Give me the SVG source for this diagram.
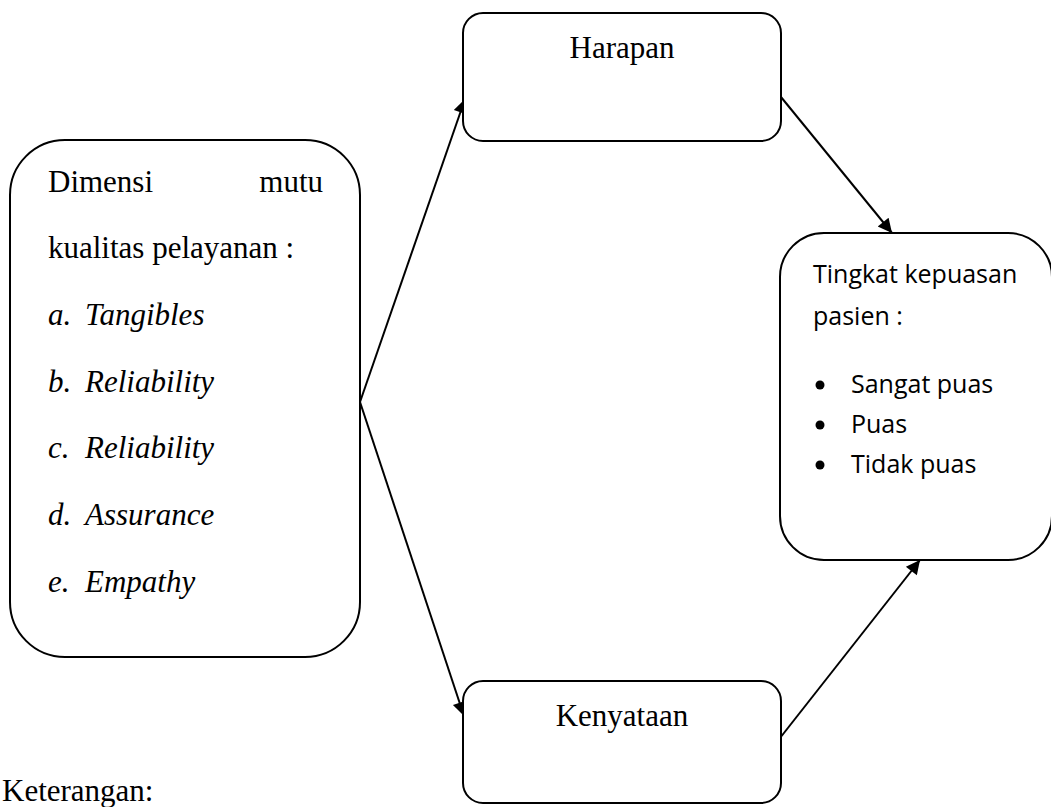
<svg xmlns="http://www.w3.org/2000/svg" width="1051" height="807" viewBox="0 0 1051 807">
<style>
.box{fill:#fff;stroke:#000;stroke-width:2}
.serif{font-family:"Liberation Serif","Times New Roman",serif;font-size:31px;fill:#000}
.it{font-style:italic}
.sans{font-family:"Open Sans","Noto Sans",sans-serif;font-size:25px;fill:#000}
.con{stroke:#000;stroke-width:2;fill:none;marker-end:url(#ah)}
</style>
<defs>
<marker id="ah" viewBox="0 0 10 10" refX="10" refY="5" markerWidth="9" markerHeight="7" markerUnits="strokeWidth" orient="auto">
<path d="M0,0 L10,5 L0,10 z" fill="#000"/>
</marker>
</defs>
<rect width="1051" height="807" fill="#fff"/>
<g id="connectors">
<line class="con" x1="360" y1="402" x2="465" y2="99"/>
<line class="con" x1="360" y1="402" x2="464" y2="716"/>
<line class="con" x1="781" y1="97" x2="892" y2="233"/>
<line class="con" x1="780" y1="738" x2="920" y2="560"/>
</g>
<g id="dimensi">
<rect class="box" x="10" y="140" width="350" height="517" rx="55" ry="55"/>
<text class="serif" x="48" y="192">Dimensi</text>
<text class="serif" x="323" y="192" text-anchor="end">mutu</text>
<text class="serif" x="48" y="258">kualitas pelayanan :</text>
<text class="serif it" x="48" y="325">a.</text><text class="serif it" x="85" y="325">Tangibles</text>
<text class="serif it" x="48" y="392">b.</text><text class="serif it" x="85" y="392">Reliability</text>
<text class="serif it" x="48" y="458">c.</text><text class="serif it" x="85" y="458">Reliability</text>
<text class="serif it" x="48" y="525">d.</text><text class="serif it" x="85" y="525">Assurance</text>
<text class="serif it" x="48" y="592">e.</text><text class="serif it" x="85" y="592">Empathy</text>
</g>
<g id="harapan">
<rect class="box" x="463" y="13" width="318" height="128" rx="20" ry="20"/>
<text class="serif" x="622" y="58" text-anchor="middle">Harapan</text>
</g>
<g id="kenyataan">
<rect class="box" x="463" y="681" width="318" height="122" rx="20" ry="20"/>
<text class="serif" x="622" y="726" text-anchor="middle">Kenyataan</text>
</g>
<g id="tingkat">
<rect class="box" x="780" y="233" width="272" height="327" rx="44" ry="44"/>
<text class="sans" x="813" y="283">Tingkat kepuasan</text>
<text class="sans" x="813" y="325">pasien :</text>
<circle cx="820" cy="385" r="4.5" fill="#000"/>
<text class="sans" x="851" y="393">Sangat puas</text>
<circle cx="820" cy="425" r="4.5" fill="#000"/>
<text class="sans" x="851" y="433">Puas</text>
<circle cx="820" cy="465" r="4.5" fill="#000"/>
<text class="sans" x="851" y="473">Tidak puas</text>
</g>
<text class="serif" x="2" y="801">Keterangan:</text>
</svg>
